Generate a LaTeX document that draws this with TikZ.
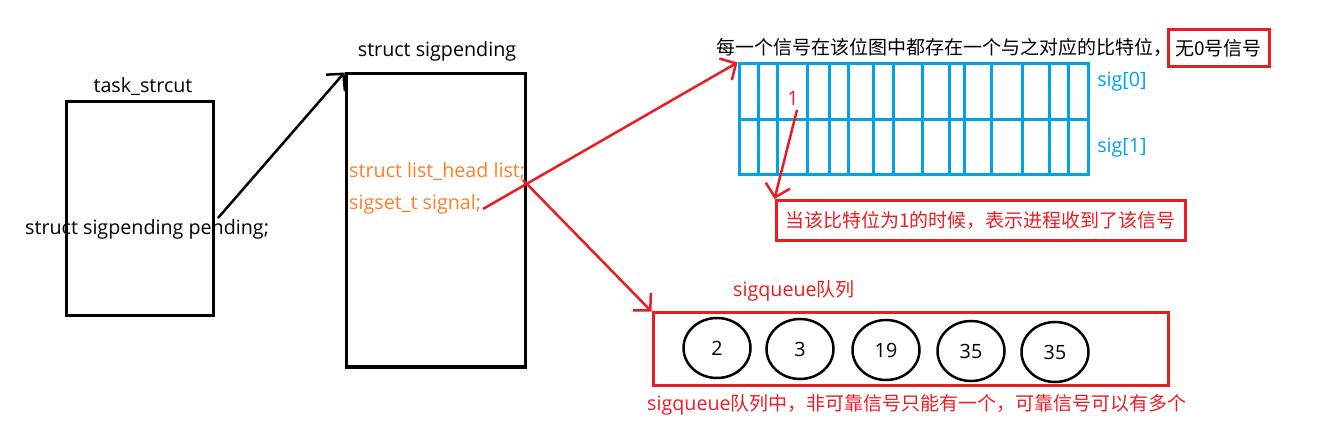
\documentclass[tikz,border=0pt]{standalone}
\usepackage{fontspec}
\setmainfont{Noto Sans CJK SC}
\newfontfamily\lat{Open Sans}
\usetikzlibrary{arrows.meta,shapes.geometric}
\definecolor{pred}{HTML}{ED1C24}
\definecolor{pblue}{HTML}{00A2E8}
\definecolor{porange}{HTML}{FF7F27}
\newcommand{\fs}{\fontsize{19}{22}\selectfont}
\newcommand{\lf}{\lat\fontsize{19.7}{22}\selectfont}
\tikzset{
  blk/.style={draw=black, line width=3pt, inner sep=0pt},
  rbox/.style={draw=pred, line width=3pt, inner sep=0pt, font=\fs},
  lbl/.style={inner sep=0pt, font=\fs},
  rarrow/.style={draw=pred, line width=2.5pt, -{Straight Barb[length=12pt,width=25pt]}},
  karrow/.style={draw=black, line width=2.5pt, -{Straight Barb[length=12pt,width=25pt]}},
  cell/.style={draw=pblue, line width=3pt},
  qc/.style={draw=black, line width=2.5pt, ellipse, minimum width=67pt, minimum height=60pt, inner sep=0pt, font=\lf}
}
\begin{document}
\begin{tikzpicture}[x=1pt,y=-1pt]
\useasboundingbox (0,0) rectangle (1331,446);
% task_struct
\node[blk, minimum width=147pt, minimum height=214pt] (task) at (139.5,209) {};
\node[lbl, font=\lf] (tasklbl) at (143,87) {task\_strcut};
\node[lbl, font=\lf, anchor=west] (pend) at (25,229) {struct sigpending pending;};
% sigpending
\node[blk, minimum width=179pt, minimum height=293pt] (sp) at (435.5,220.5) {};
\node[lbl, font=\lf] (splbl) at (437,51) {struct sigpending};
\node[lbl, font=\lf, anchor=west, text=porange] (lh) at (349,172) {struct list\_head list;};
\node[lbl, font=\lf, anchor=west, text=porange] (ss) at (349,204) {sigset\_t signal;};
\coordinate (pstart) at (218,218);
\draw[karrow] (pstart) -- (sp.north west);
% bitmap
\node[draw=pblue, line width=3pt, minimum width=349pt, minimum height=111pt, inner sep=0pt] (grid) at (913.5,119.5) {};
\foreach \x in {758,777,807,829,848,873,893,922,949,964,991,1022,1049,1068}
  \draw[cell] (\x,64) -- (\x,175);
\draw[cell] (grid.west) -- (grid.east);
\node[lbl, font=\lf, text=pblue] (sig0) at (1122,82) {sig[0]};
\node[lbl, font=\lf, text=pblue] (sig1) at (1122,148) {sig[1]};
\node[lbl, anchor=west] (top) at (716,47) {每一个信号在该位图中都存在一个与之对应的比特位，};
\node[rbox, minimum width=101pt, minimum height=37pt] (no0) at (1218.5,48.5) {无0号信号};
\node[lbl, font=\lf, text=pred] (one) at (793,98) {1};
\node[rbox, minimum width=409pt, minimum height=40pt, text=pred] (note) at (980.5,220.5) {当该比特位为1的时候，表示进程收到了该信号};
\coordinate (onefoot) at (797,110);
\draw[rarrow] (onefoot) -- (note.north west);
% queue
\node[rbox, minimum width=515pt, minimum height=72pt] (queue) at (910.5,349) {};
\node[lbl, text=pred] (qlbl) at (794,291) {{\lf sigqueue}队列};
\node[qc] (c1) at (717,348) {2};
\node[qc] (c2) at (800,349) {3};
\node[qc] (c3) at (886,350) {19};
\node[qc] (c4) at (971,351) {35};
\node[qc] (c5) at (1055,352) {35};
\node[lbl, text=pred, anchor=west] (qnote) at (647,405) {{\lf sigqueue}队列中，非可靠信号只能有一个，可靠信号可以有多个};
% red arrows
\coordinate (s1) at (483,209);
\coordinate (s2) at (523,180);
\draw[rarrow] (s1) -- (grid.north west);
\draw[rarrow] (s2) -- (queue.north west);
\end{tikzpicture}
\end{document}
